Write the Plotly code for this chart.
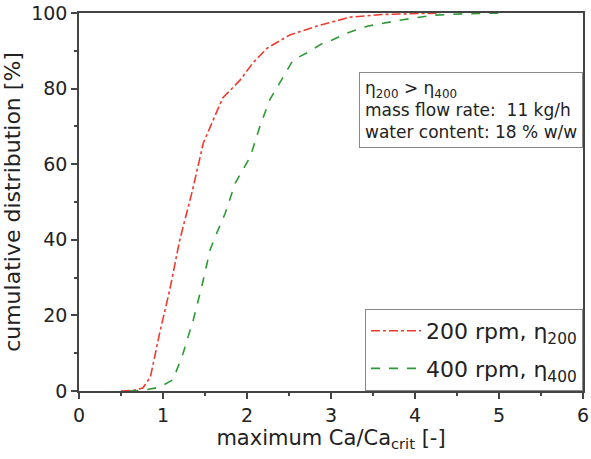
import plotly.graph_objects as go

# 200 rpm (red, dash-dot)
x200 = [0.5, 0.65, 0.76, 0.85, 0.96, 1.08, 1.20, 1.35, 1.48, 1.60, 1.71, 1.92, 2.07, 2.24, 2.51, 2.87, 3.23, 3.6, 4.0, 4.3]
y200 = [0.0, 0.2, 0.8, 3.7, 15.3, 26.7, 40.0, 53.0, 65.6, 71.7, 77.5, 82.3, 86.8, 90.7, 94.2, 96.8, 98.9, 99.6, 99.9, 100.0]

# 400 rpm (green, dashed)
x400 = [0.6, 0.76, 0.96, 1.12, 1.24, 1.36, 1.46, 1.56, 1.64, 1.74, 1.86, 2.04, 2.15, 2.27, 2.39, 2.55, 2.71, 2.90, 3.02, 3.19, 3.43, 3.82, 4.21, 4.6, 5.05]
y400 = [0.0, 0.2, 1.0, 3.0, 10.0, 18.8, 27.5, 37.3, 41.8, 47.0, 55.0, 62.0, 69.8, 77.0, 81.5, 87.6, 89.4, 92.0, 92.9, 94.7, 96.5, 98.1, 99.4, 99.8, 100.0]

names = ["200 rpm, η<sub>200</sub>", "400 rpm, η<sub>400</sub>"]
info_lines = ["η<sub>200</sub> > η<sub>400</sub>", "mass flow rate:  11 kg/h", "water content: 18 % w/w"]

font_fam = "DejaVu Sans, Verdana, sans-serif"
axis_col = "#444444"
txt_col = "#222222"

fig = go.Figure()
fig.add_trace(go.Scatter(x=x200, y=y200, mode="lines", name=names[0], legendgroup="a",
                         line=dict(color="#ee3b30", width=1.6, dash="dashdot")))
fig.add_trace(go.Scatter(x=x400, y=y400, mode="lines", name=names[1], legendgroup="b",
                         line=dict(color="#2e9a35", width=1.6, dash="dash")))

axis_common = dict(showline=True, linecolor=axis_col, linewidth=1.5, mirror=True,
                   ticks="outside", ticklen=6, tickwidth=1.5, tickcolor=axis_col,
                   showgrid=False, zeroline=False, automargin=False,
                   tickfont=dict(size=19, color=txt_col, family=font_fam))

fig.update_xaxes(range=[0, 6], dtick=1,
                 minor=dict(dtick=0.5, ticks="outside", ticklen=3, tickwidth=1.5, tickcolor=axis_col),
                 title=dict(text="maximum Ca/Ca<sub>crit</sub> [-]", font=dict(size=21, color=txt_col, family=font_fam), standoff=4),
                 **axis_common)
fig.update_yaxes(range=[0, 100], dtick=20,
                 minor=dict(dtick=10, ticks="outside", ticklen=3, tickwidth=1.5, tickcolor=axis_col),
                 title=dict(text="cumulative distribution [%]", font=dict(size=22, color=txt_col, family=font_fam), standoff=4),
                 **axis_common)

fig.add_annotation(xref="paper", yref="paper", x=1, y=0.845, xanchor="right", yanchor="top",
                   text="<br>".join(info_lines), align="left", showarrow=False,
                   font=dict(size=17, color=txt_col, family=font_fam),
                   bordercolor="#888", borderwidth=1, borderpad=5, bgcolor="white")

fig.update_layout(
    width=591, height=459,
    margin=dict(l=79, r=8, t=13, b=68),
    plot_bgcolor="white", paper_bgcolor="white",
    legend=dict(x=1, y=0, xanchor="right", yanchor="bottom",
                bordercolor="#888", borderwidth=1, bgcolor="white",
                font=dict(size=22, color=txt_col, family=font_fam),
                itemwidth=50, tracegroupgap=6),
    font=dict(family=font_fam),
)

fig.write_html("out.html")
